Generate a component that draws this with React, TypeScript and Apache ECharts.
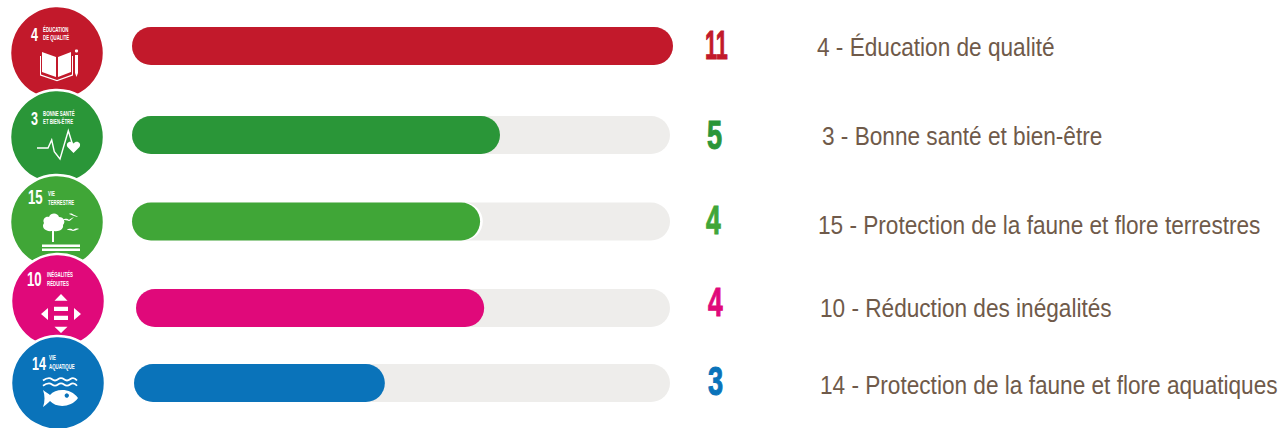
import React, { useEffect, useRef } from "react";
import * as echarts from "echarts";

const goalLabels = [
  "4 - Éducation de qualité",
  "3 - Bonne santé et bien-être",
  "15 - Protection de la faune et flore terrestres",
  "10 - Réduction des inégalités",
  "14 - Protection de la faune et flore aquatiques",
];
const goalNumbers = ["4", "3", "15", "10", "14"];
const badgeTitles = [
  ["ÉDUCATION", "DE QUALITÉ"],
  ["BONNE SANTÉ", "ET BIEN-ÊTRE"],
  ["VIE", "TERRESTRE"],
  ["INÉGALITÉS", "RÉDUITES"],
  ["VIE", "AQUATIQUE"],
];
const counts = [11, 5, 4, 4, 3];
// drawn bar length, in % of the grey track (the source's bars are not proportional to the counts)
const fillShares = [100, 68.4, 64.7, 65.2, 46.8];
const trackShare = [100, 100, 100, 100, 100];
const colors = ["#C2192B", "#2A9638", "#40A637", "#E0097A", "#0A73BA"];

const W = 1284;
const H = 428;
const barLeft = [132, 132, 132, 136, 134];
const barRight = [673, 670, 670, 670, 670];
const barTop = [27, 116, 202.5, 289, 364];
const barH = 38;
const haloExtra = [0, 0, 0.5, 0, 0];
const countX = [705, 707, 706, 708, 708];
const countY = [45, 135, 220, 302, 381];
const countScale = [0.54, 0.68, 0.66, 0.66, 0.68];
const labelX = [817, 822, 818, 820, 820];
const labelY = [47, 136, 225, 308, 385];
const badgeC = [[57, 53], [57, 137], [57, 222], [58, 301], [58, 383]];
const badgeNumPos = [[-26, -19], [-26, -19], [-29, -24], [-31, -21], [-26, -20]];
const badgeNumSize = [19, 19, 20, 20, 19];
const badgeTitlePos = [[-14, -23, -15], [-14, -23, -15], [-9, -28, -19], [-11, -26, -17], [-9, -25, -16]];

const FONT = "'Liberation Sans', sans-serif";

const iconPaths: Record<string, string> = {
  book: "M-15-1 L-1 4 L-1 24 L-15 19 Z M1 4 L14-1 L14 19 L1 24 Z M-17 3 L-16 3 L-16 21.5 L0 27 L15 21.5 L15 3 L16 3 L16 22.4 L0 28.2 L-17 22.4 Z M18 2 L21 2 L21 20 L19.5 24 L18 20 Z",
  heart: "M16.5 16 L10.5 10 C8 6 13.5 2.5 16.5 6.5 C19.5 2.5 25 6 22.5 10 Z",
  tree: "M-5 9 C-12 10 -16 5 -13 1 C-15 -3 -11 -6 -8 -5 C-6 -10 1 -9 2 -5 C7 -5 9 0 6 3 C7 7 2 10 -3 9 L-3 20 L-5 20 Z M-15 22.5 L23 22.5 L23 25 L-15 25 Z M-15 26.5 L23 26.5 L23 29 L-15 29 Z",
  birds: "M6 -2 C8 -4 11 -3 12 -2 C13 -3 15 -4 17 -5 C15 -3 13 -1 12 -1 C10 -2 8 -2 6 -2 Z M12 -8 C14 -9 16 -8 17 -7 C18 -7 20 -6 21 -5 C19 -5 18 -6 17 -6 C15 -7 14 -7 12 -8 Z M10 8 C12 6 15 7 16 8 C17 7 20 6 22 7 C19 8 17 9 16 9 C14 8 12 8 10 8 Z",
  ineq: "M3-7 L9.5-0.3 L-3.5-0.3 Z M-4 5.7 L10 5.7 L10 10 L-4 10 Z M-4 14.7 L10 14.7 L10 19 L-4 19 Z M3 32 L9.5 25.7 L-3.5 25.7 Z M-17 13 L-10 7 L-10 19 Z M23 13 L16 7 L16 19 Z",
  fish: "M-15 7 C-11 10 -9 11 -8 12 C-2 5 13 5 20 15 C13 25 -2 25 -8 18 C-9 19 -11 21 -15 24 C-13 19 -13 12 -15 7 Z M11 12.5 A2.2 2.2 0 1 0 11 12.6 Z",
};
Object.entries(iconPaths).forEach(([k, d]) => {
  echarts.graphic.registerShape("icon_" + k, echarts.graphic.extendPath(d as any, {}) as any);
});

const white = { fill: "#fff" };
const wire = { stroke: "#fff", fill: "none", lineWidth: 1.4 };
const waveXs = [-15, -9, -3, 3, 9, 15, 19];
const wave = (y: number) => waveXs.map((x, i) => [x, y + (i % 2 ? -1.2 : 1.2)]);

function pictogram(i: number): any[] {
  if (i === 0)
    return [
      { type: "icon_book", style: white },
      { type: "circle", shape: { cx: 19.5, cy: -2, r: 1.6 }, style: white },
    ];
  if (i === 1)
    return [
      {
        type: "polyline",
        shape: { points: [[-20, 11], [-9, 11], [-5.3, 3], [-2.7, 14.7], [3, 22], [11.3, -6.3], [15.7, 8]] },
        style: wire,
      },
      { type: "icon_heart", style: white },
    ];
  if (i === 2) return [{ type: "icon_tree", style: white }, { type: "icon_birds", style: white }];
  if (i === 3) return [{ type: "icon_ineq", style: white }];
  return [
    { type: "polyline", shape: { points: wave(-3.7), smooth: 0.5 }, style: { ...wire, lineWidth: 1.8 } },
    { type: "polyline", shape: { points: wave(1.5), smooth: 0.5 }, style: { ...wire, lineWidth: 1.8 } },
    { type: "icon_fish", style: { fill: "#fff", fillRule: "evenodd" } },
  ];
}

function badge(i: number): any {
  const [cx, cy] = badgeC[i];
  const [nx, ny] = badgeNumPos[i];
  const [tx, t1, t2] = badgeTitlePos[i];
  const small = (text: string, y: number) => ({
    type: "text",
    x: tx,
    y,
    scaleX: 0.62,
    style: {
      text,
      fill: "#fff",
      font: `bold 7px ${FONT}`,
      textVerticalAlign: "middle",
    },
  });
  return {
    type: "group",
    x: cx,
    y: cy,
    children: [
      { type: "circle", shape: { cx: 0, cy: 0, r: 47 }, style: { fill: colors[i], stroke: "#fff", lineWidth: 2.5 } },
      {
        type: "text",
        x: nx,
        y: ny,
        scaleX: 0.66,
        style: {
          text: goalNumbers[i],
          fill: "#fff",
          font: `bold ${badgeNumSize[i]}px ${FONT}`,
          textVerticalAlign: "middle",
        },
      },
      small(badgeTitles[i][0], t1),
      small(badgeTitles[i][1], t2),
      ...pictogram(i),
    ],
  };
}

export default function App() {
  const ref = useRef<HTMLDivElement>(null);
  useEffect(() => {
    document.body.style.margin = "0";
    const chart = echarts.init(ref.current!, undefined, { renderer: "svg" });
    const idx = counts.map((_, i) => i);
    const barBase = { type: "bar", barWidth: barH, barGap: "-100%" };
    const option: any = {
      animation: false,
      backgroundColor: "#fff",
      grid: idx.map((i) => ({
        left: barLeft[i],
        width: barRight[i] - barLeft[i],
        top: barTop[i],
        height: barH,
      })),
      xAxis: idx.map((i) => ({ gridIndex: i, type: "value", min: 0, max: 100, show: false })),
      yAxis: idx.map((i) => ({ gridIndex: i, type: "category", data: [goalLabels[i]], show: false })),
      series: idx.flatMap((i) => [
        {
          ...barBase,
          xAxisIndex: i,
          yAxisIndex: i,
          data: [trackShare[i]],
          silent: true,
          itemStyle: { color: "#EEEDEB", borderRadius: barH / 2 },
        },
        ...(haloExtra[i] > 0
          ? [
              {
                ...barBase,
                xAxisIndex: i,
                yAxisIndex: i,
                data: [fillShares[i] + haloExtra[i]],
                silent: true,
                itemStyle: { color: "#fff", borderRadius: barH / 2 },
              },
            ]
          : []),
        {
          ...barBase,
          xAxisIndex: i,
          yAxisIndex: i,
          data: [fillShares[i]],
          itemStyle: { color: colors[i], borderRadius: barH / 2 },
        },
      ]),
      graphic: [
        ...idx.map((i) => badge(i)),
        ...idx.map((i) => ({
          type: "text",
          x: countX[i],
          y: countY[i],
          scaleX: countScale[i],
          style: {
            text: String(counts[i]),
            fill: colors[i],
            stroke: colors[i],
            lineWidth: 1,
            font: `bold 40px ${FONT}`,
            textVerticalAlign: "middle",
          },
        })),
        ...idx.map((i) => ({
          type: "text",
          x: labelX[i],
          y: labelY[i],
          scaleX: 0.905,
          style: {
            text: goalLabels[i],
            fill: "#6F5A4A",
            font: `25px ${FONT}`,
            textVerticalAlign: "middle",
          },
        })),
      ],
    };
    chart.setOption(option);
    return () => chart.dispose();
  }, []);
  return <div ref={ref} style={{ width: W, height: H }} />;
}
